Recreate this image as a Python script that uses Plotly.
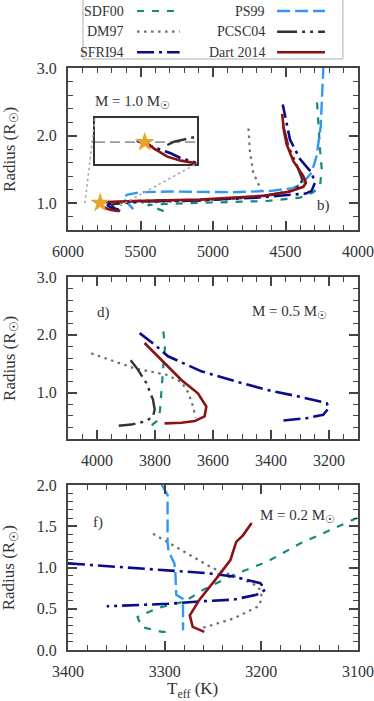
import plotly.graph_objects as go

# ---- panel b) M = 1.0 Msun ----
t1_sdf00 = [5340, 5400, 5450, 5300, 5090, 4850, 4630, 4400, 4308, 4262, 4250, 4262, 4274, 4285]
r1_sdf00 = [0.88, 0.93, 0.97, 0.99, 1.00, 1.01, 1.03, 1.08, 1.16, 1.25, 1.50, 1.80, 2.14, 2.58]
t1_dm97 = [5640, 5500, 5300, 5100, 4860, 4700, 4655, 4676, 4722, 4745, 4757]
r1_dm97 = [1.00, 1.01, 1.02, 1.03, 1.06, 1.09, 1.11, 1.23, 1.45, 1.75, 2.16]
t1_sfri94 = [5650, 5700, 5730, 5690, 5500, 5100, 4700, 4450, 4360, 4320, 4297, 4320, 4400, 4469, 4519]
r1_sfri94 = [0.90, 0.93, 0.97, 1.01, 1.03, 1.04, 1.08, 1.12, 1.14, 1.18, 1.30, 1.45, 1.65, 1.94, 2.46]
t1_ps99 = [5550, 5570, 5590, 5619, 5595, 5503, 5300, 5090, 4860, 4600, 4450, 4389, 4320, 4285, 4257, 4239]
r1_ps99 = [0.91, 0.96, 1.01, 1.07, 1.12, 1.16, 1.17, 1.16, 1.16, 1.18, 1.22, 1.28, 1.45, 1.70, 2.14, 3.00]
t1_pcsc04 = [5640, 5680, 5700, 5500, 5100, 4700, 4480, 4400, 4385, 4420, 4480, 4515]
r1_pcsc04 = [0.88, 0.92, 0.98, 1.02, 1.04, 1.09, 1.17, 1.25, 1.35, 1.55, 1.84, 2.14]
t1_dart = [5650, 5710, 5760, 5780, 5740, 5550, 5090, 4630, 4469, 4377, 4359, 4377, 4446, 4492, 4510, 4523]
r1_dart = [0.88, 0.90, 0.94, 0.99, 1.015, 1.03, 1.05, 1.11, 1.17, 1.24, 1.30, 1.40, 1.62, 1.87, 2.06, 2.32]

# inset (zoom around the Sun)
ti_ref = [5822, 5732]
ri_ref = [1.0, 1.0]
ti_sfri94 = [5785, 5779, 5768, 5755, 5746, 5733]
ri_sfri94 = [1.0005, 0.9996, 0.9981, 0.9964, 0.9948, 0.9934]
ti_pcsc04 = [5758, 5752, 5743, 5735, 5732]
ri_pcsc04 = [0.9991, 1.0002, 1.0009, 1.0016, 1.0018]
ti_dart = [5777.5, 5770, 5758, 5746, 5732]
ri_dart = [1.0001, 0.9980, 0.9953, 0.9940, 0.9931]
sun_t = [5778]
sun_r = [1.0]

# ---- panel d) M = 0.5 Msun ----
t2_sdf00 = [3771, 3766, 3771, 3777, 3783, 3794, 3811, 3818]
r2_sdf00 = [2.06, 1.77, 1.48, 1.03, 0.68, 0.51, 0.44, 0.43]
t2_dm97 = [4020, 3870, 3760, 3708, 3685, 3668, 3660]
r2_dm97 = [1.68, 1.42, 1.31, 1.18, 1.00, 0.75, 0.57]
t2_sfri94 = [3853, 3801, 3755, 3640, 3525, 3415, 3300, 3208, 3200, 3220, 3277, 3358]
r2_sfri94 = [2.03, 1.83, 1.63, 1.37, 1.20, 1.05, 0.93, 0.82, 0.74, 0.62, 0.56, 0.52]
t2_pcsc04 = [3884, 3859, 3830, 3807, 3801, 3807, 3830, 3882, 3925]
r2_pcsc04 = [1.56, 1.40, 1.17, 0.88, 0.71, 0.59, 0.51, 0.45, 0.43]
t2_dart = [3836, 3767, 3709, 3652, 3623, 3629, 3663, 3709, 3767]
r2_dart = [1.86, 1.51, 1.22, 0.99, 0.76, 0.59, 0.51, 0.48, 0.47]

# ---- panel f) M = 0.2 Msun ----
t3_sdf00 = [3101, 3160, 3194, 3229, 3260, 3279, 3307, 3328, 3324, 3303, 3291]
r3_sdf00 = [1.60, 1.29, 1.07, 0.91, 0.73, 0.59, 0.51, 0.40, 0.28, 0.22, 0.22]
t3_dm97 = [3312, 3279, 3250, 3222, 3205, 3200, 3200, 3203, 3229, 3263]
r3_dm97 = [1.41, 1.19, 0.99, 0.87, 0.78, 0.71, 0.61, 0.53, 0.38, 0.26]
t3_sfri94 = [3400, 3297, 3255, 3229, 3201, 3196, 3205, 3229, 3263, 3297, 3345, 3360]
r3_sfri94 = [1.05, 0.97, 0.93, 0.89, 0.81, 0.73, 0.67, 0.61, 0.59, 0.56, 0.54, 0.53]
t3_ps99 = [3303, 3297, 3297, 3296, 3290, 3289, 3288, 3281, 3281]
r3_ps99 = [2.00, 1.88, 1.30, 1.20, 1.05, 0.95, 0.67, 0.62, 0.24]
t3_dart = [3259, 3271, 3274, 3264, 3245, 3232, 3226, 3219, 3210]
r3_dart = [0.22, 0.28, 0.42, 0.61, 0.89, 1.09, 1.31, 1.39, 1.54]

FONT = "Liberation Serif"
AXC = "#444444"
TXT = "#333333"

styles = {
    "SDF00": dict(color="#14897f", width=2.2, dash="7px,8px"),
    "DM97": dict(color="#6e6e6e", width=2.2, dash="2.5px,4.5px"),
    "SFRI94": dict(color="#0b0b8c", width=2.6, dash="17px,5px,3px,5px"),
    "PS99": dict(color="#2f98f5", width=2.4, dash="13px,5px"),
    "PCSC04": dict(color="#333333", width=2.4, dash="20px,5px,3px,5px,3px,5px"),
    "Dart 2014": dict(color="#8b1212", width=2.6, dash="solid"),
}

fig = go.Figure()


def add(t, r, name, xa, ya):
    fig.add_trace(go.Scatter(x=t, y=r, mode="lines", line=styles[name], name=name,
                             showlegend=False, xaxis=xa, yaxis=ya, hoverinfo="skip"))


# panel 1
add(t1_dm97, r1_dm97, "DM97", "x", "y")
add(t1_sdf00, r1_sdf00, "SDF00", "x", "y")
add(t1_ps99, r1_ps99, "PS99", "x", "y")
add(t1_pcsc04, r1_pcsc04, "PCSC04", "x", "y")
add(t1_sfri94, r1_sfri94, "SFRI94", "x", "y")
add(t1_dart, r1_dart, "Dart 2014", "x", "y")
fig.add_trace(go.Scatter(x=sun_t, y=sun_r, mode="markers", showlegend=False,
                         marker=dict(symbol="star", size=15, color="#e6a62c"),
                         xaxis="x", yaxis="y"))

# inset
fig.add_trace(go.Scatter(x=ti_ref, y=ri_ref, mode="lines", showlegend=False,
                         line=dict(color="#999999", width=1.8, dash="10px,5px"),
                         xaxis="x4", yaxis="y4"))
add(ti_pcsc04, ri_pcsc04, "PCSC04", "x4", "y4")
add(ti_sfri94, ri_sfri94, "SFRI94", "x4", "y4")
add(ti_dart, ri_dart, "Dart 2014", "x4", "y4")
fig.add_trace(go.Scatter(x=sun_t, y=sun_r, mode="markers", showlegend=False,
                         marker=dict(symbol="star", size=15, color="#e6a62c"),
                         xaxis="x4", yaxis="y4"))

# panel 2
add(t2_dm97, r2_dm97, "DM97", "x2", "y2")
add(t2_sdf00, r2_sdf00, "SDF00", "x2", "y2")
add(t2_pcsc04, r2_pcsc04, "PCSC04", "x2", "y2")
add(t2_sfri94, r2_sfri94, "SFRI94", "x2", "y2")
add(t2_dart, r2_dart, "Dart 2014", "x2", "y2")

# panel 3
add(t3_dm97, r3_dm97, "DM97", "x3", "y3")
add(t3_sdf00, r3_sdf00, "SDF00", "x3", "y3")
add(t3_ps99, r3_ps99, "PS99", "x3", "y3")
add(t3_sfri94, r3_sfri94, "SFRI94", "x3", "y3")
add(t3_dart, r3_dart, "Dart 2014", "x3", "y3")


def axis(rng, dtick, mdtick, fmt, domain, anchor, standoff):
    return dict(range=rng, autorange=False, automargin=False, dtick=dtick, tick0=0,
                tickformat=fmt, domain=domain, anchor=anchor, ticks="inside", ticklen=9,
                tickwidth=1.6, tickcolor=AXC, showline=True, linecolor=AXC, linewidth=2,
                mirror="allticks", showgrid=False, zeroline=False,
                ticklabelstandoff=standoff,
                minor=dict(ticks="inside", dtick=mdtick, ticklen=5, tickwidth=1.4,
                           tickcolor=AXC, showgrid=False),
                tickfont=dict(family=FONT, size=16, color=TXT))


d1 = [0.7216, 1.0]
d2 = [0.3625, 0.6409]
d3 = [0.0, 0.2835]

fig.update_layout(
    width=374, height=701,
    margin=dict(l=68, r=16, t=68, b=51),
    paper_bgcolor="white", plot_bgcolor="white",
    showlegend=False,
    xaxis=axis([6000, 4000], 500, 100, "d", [0, 1], "y", 6),
    yaxis=axis([0.6, 3.0], 1, 0.2, ".1f", d1, "x", 6),
    xaxis2=axis([4100, 3100], 200, 50, "d", [0, 1], "y2", 6),
    yaxis2=axis([0.2, 3.0], 1, 0.2, ".1f", d2, "x2", 6),
    xaxis3=axis([3400, 3100], 100, 20, "d", [0, 1], "y3", 6),
    yaxis3=axis([0.0, 2.0], 0.5, 0.1, ".1f", d3, "x3", 6),
    xaxis4=dict(range=[5822, 5732], domain=[0.0931, 0.4438], anchor="y4", automargin=False,
                showticklabels=False, ticks="", showgrid=False, zeroline=False,
                showline=True, mirror=True, linecolor="#333333", linewidth=2),
    yaxis4=dict(range=[0.9928, 1.0078], domain=[0.8345, 0.9136], anchor="x4", automargin=False,
                showticklabels=False, ticks="", showgrid=False, zeroline=False,
                showline=True, mirror=True, linecolor="#333333", linewidth=2),
)

# zoom connector lines
conn = dict(color="#a8a8a8", width=1.6, dash="2.5px,3px")
fig.add_shape(type="line", xref="x", yref="y", x0=5883, y0=1.0, x1=5814, y1=2.26, line=conn)
fig.add_shape(type="line", xref="x", yref="y", x0=5641, y0=0.96, x1=5112, y1=1.584, line=conn)

# hand-made legend box (labels left of samples)
fig.add_shape(type="rect", xref="paper", yref="paper", x0=0.0517, x1=0.948, y0=1.0155, y1=1.125,
              line=dict(color="#b0b0b0", width=1), fillcolor="white", layer="below")
leg_rows = [1.0979, 1.0624, 1.0270]
left_names = ["SDF00", "DM97", "SFRI94"]
right_names = ["PS99", "PCSC04", "Dart 2014"]
for yy, ln, rn in zip(leg_rows, left_names, right_names):
    for name, xt, xs0, xs1 in [(ln, 0.200, 0.238, 0.385), (rn, 0.686, 0.721, 0.886)]:
        fig.add_annotation(x=xt, y=yy, xref="paper", yref="paper", text=name, showarrow=False,
                           xanchor="right", yanchor="middle",
                           font=dict(family=FONT, size=14, color=TXT))
        st = styles[name]
        fig.add_shape(type="line", xref="paper", yref="paper", x0=xs0, x1=xs1, y0=yy, y1=yy,
                      line=dict(color=st["color"], width=st["width"], dash=st["dash"]))

lab = dict(family=FONT, size=15, color=TXT)
notes = [
    (5552, 2.50, "x", "y", "M = 1.0 M<sub>☉</sub>"),
    (4241, 0.96, "x", "y", "b)"),
    (3979, 2.38, "x2", "y2", "d)"),
    (3335, 2.40, "x2", "y2", "M = 0.5 M<sub>☉</sub>"),
    (3369, 1.55, "x3", "y3", "f)"),
    (3163, 1.62, "x3", "y3", "M = 0.2 M<sub>☉</sub>"),
]
for xx, yy, xr, yr, txt in notes:
    fig.add_annotation(x=xx, y=yy, xref=xr, yref=yr, text=txt, showarrow=False,
                       xanchor="center", yanchor="middle", font=lab)

# axis titles
ttl = dict(family=FONT, size=17, color=TXT)
for yc in [0.8608, 0.5017, 0.1418]:
    fig.add_annotation(x=-0.197, y=yc, xref="paper", yref="paper", text="Radius (R<sub>☉</sub>)",
                       textangle=-90, showarrow=False, xanchor="center", yanchor="middle",
                       font=ttl)
fig.add_annotation(x=0.428, y=-0.069, xref="paper", yref="paper", text="T<sub>eff</sub> (K)",
                   showarrow=False, xanchor="center", yanchor="middle", font=ttl)

fig.write_html("out.html", config={"displayModeBar": False},
               post_script="document.body.style.margin='0';document.body.style.overflow='hidden';")
